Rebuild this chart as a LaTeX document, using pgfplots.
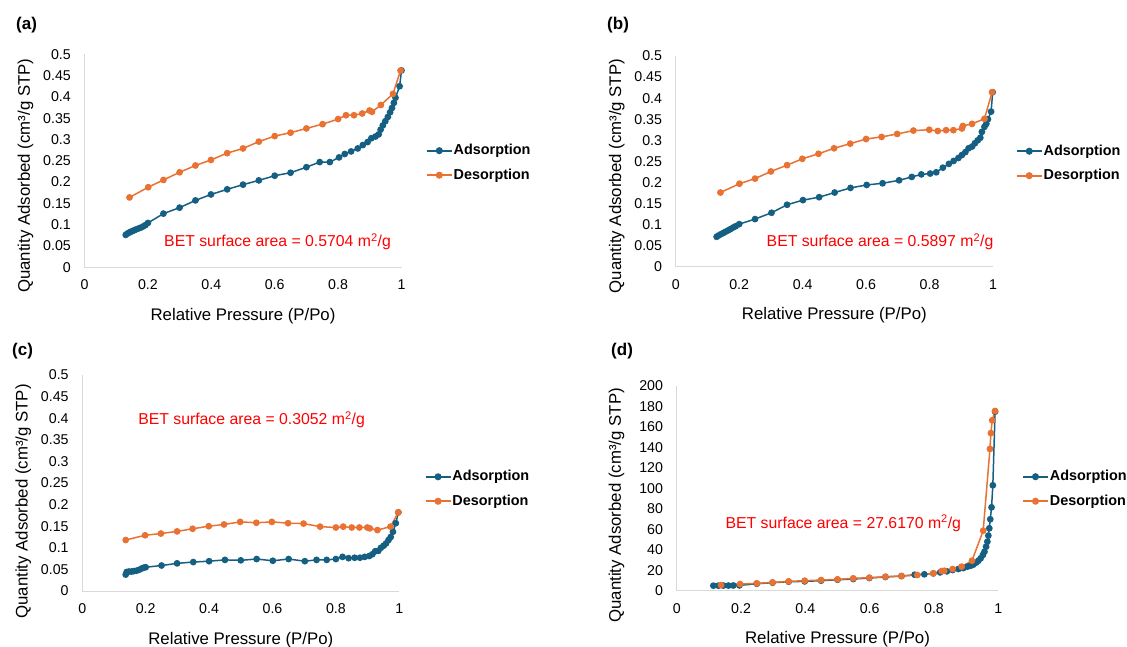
\documentclass[border=0pt]{standalone}
\usepackage{pgfplots}
\pgfplotsset{compat=1.18}
\usepackage{fontspec}
\setmainfont{Liberation Sans}
\definecolor{adsblue}{HTML}{156082}
\definecolor{desorange}{HTML}{E97132}
\definecolor{axgray}{HTML}{D9D9D9}
\tikzset{bettext/.style={text=red, font=\fontsize{15.8}{18}\selectfont, inner sep=0pt}}
\pgfplotsset{
  bet/.style={
    scale only axis, anchor=south west, clip=false,
    xmin=0, xmax=1, ymin=0,
    axis x line*=bottom, axis y line*=left,
    axis line style={draw=axgray, line width=1pt},
    major tick length=0pt,
    xtick={0,0.2,0.4,0.6,0.8,1},
    /pgf/number format/assume math mode=true,
    tick label style={font=\fontsize{14.2}{16}\selectfont, inner sep=0pt},
    xticklabel style={anchor=center, yshift=-17.7pt},
    yticklabel style={anchor=east, xshift=-13.5pt, /pgf/number format/fixed, /pgf/number format/precision=2},
    xlabel={Relative Pressure (P/Po)},
    ylabel={Quantity Adsorbed (cm³/g STP)},
    label style={font=\fontsize{16.8}{19}\selectfont},
    xlabel style={at={(axis description cs:0.5,0)}, anchor=center, yshift=-48.7pt},
    legend cell align=left,
    legend image code/.code={\draw[line width=1.8pt, mark repeat=2,mark phase=2] plot coordinates {(0pt,0pt)(12.5pt,0pt)(25pt,0pt)};},
    legend style={draw=none, fill=none, inner sep=0pt, outer sep=0pt, row sep=8.5pt,
      font=\bfseries\fontsize{14.4}{16}\selectfont,
      nodes={inner sep=1pt, text height=11pt, text depth=3pt}},
  },
  ads/.style={color=adsblue, line width=1.5pt, mark=*, mark size=2.6pt, mark options={solid}},
  des/.style={color=desorange, line width=1.5pt, mark=*, mark size=2.6pt, mark options={solid}},
}
\begin{document}
\begin{tikzpicture}
\useasboundingbox (0pt,0pt) rectangle (1127pt,646pt);
% ---------------- (a)
\begin{axis}[bet, at={(84.5pt,378.7pt)}, width=317pt, height=213pt, ymax=0.5,
  ytick={0,0.05,0.1,0.15,0.2,0.25,0.3,0.35,0.4,0.45,0.5},
  ylabel style={at={(axis description cs:-0.186,0.43)}, anchor=center},
  legend style={at={(1.077,0.49)}, anchor=west}]
\addplot[ads] coordinates {
(0.130,0.076)(0.135,0.079)(0.140,0.081)(0.145,0.083)(0.151,0.085)(0.157,0.087)
(0.163,0.089)(0.170,0.091)(0.177,0.093)(0.185,0.096)(0.192,0.099)(0.200,0.104)
(0.249,0.126)(0.300,0.140)(0.350,0.157)(0.399,0.171)(0.450,0.183)(0.500,0.194)
(0.550,0.204)(0.600,0.215)(0.650,0.222)(0.700,0.235)(0.742,0.247)(0.774,0.247)
(0.803,0.258)(0.821,0.266)(0.841,0.272)(0.862,0.279)(0.878,0.287)(0.893,0.294)
(0.905,0.303)(0.918,0.307)(0.928,0.312)(0.934,0.323)(0.941,0.333)(0.949,0.343)
(0.957,0.353)(0.964,0.364)(0.970,0.374)(0.976,0.386)(0.981,0.398)(0.994,0.425)
(1.000,0.462)};
\addlegendentry{Adsorption}
\addplot[des] coordinates {
(0.142,0.164)(0.201,0.188)(0.249,0.205)(0.300,0.223)(0.350,0.239)(0.399,0.252)
(0.450,0.268)(0.500,0.279)(0.550,0.295)(0.600,0.308)(0.650,0.316)(0.700,0.326)
(0.751,0.336)(0.800,0.348)(0.825,0.357)(0.850,0.357)(0.876,0.361)(0.899,0.368)
(0.907,0.365)(0.935,0.381)(0.973,0.407)(0.997,0.462)};
\addlegendentry{Desorption}
\node[bettext] at (axis cs:0.609,0.060) {BET surface area = 0.5704 m\textsuperscript{2}/g};
\end{axis}
% ---------------- (b)
\begin{axis}[bet, at={(675.7pt,379.3pt)}, width=317.3pt, height=210.7pt, ymax=0.5,
  ytick={0,0.05,0.1,0.15,0.2,0.25,0.3,0.35,0.4,0.45,0.5},
  ylabel style={at={(axis description cs:-0.186,0.43)}, anchor=center},
  legend style={at={(1.072,0.49)}, anchor=west}]
\addplot[ads] coordinates {
(0.129,0.071)(0.135,0.074)(0.142,0.077)(0.150,0.080)(0.157,0.083)(0.165,0.086)
(0.172,0.089)(0.181,0.093)(0.189,0.096)(0.200,0.101)
(0.250,0.113)(0.302,0.128)(0.351,0.147)(0.401,0.158)(0.452,0.165)(0.501,0.176)
(0.551,0.187)(0.602,0.194)(0.652,0.198)(0.704,0.205)(0.744,0.213)(0.774,0.219)
(0.802,0.221)(0.821,0.224)(0.842,0.235)(0.861,0.244)(0.876,0.251)(0.891,0.258)
(0.902,0.265)(0.913,0.272)(0.923,0.281)(0.934,0.285)(0.943,0.293)(0.952,0.300)
(0.960,0.306)(0.965,0.320)(0.973,0.332)(0.979,0.339)(0.984,0.350)(0.994,0.368)
(0.999,0.414)};
\addlegendentry{Adsorption}
\addplot[des] coordinates {
(0.141,0.176)(0.201,0.197)(0.250,0.209)(0.300,0.226)(0.351,0.241)(0.399,0.256)
(0.450,0.268)(0.499,0.281)(0.550,0.292)(0.600,0.303)(0.649,0.308)(0.698,0.315)
(0.749,0.323)(0.799,0.325)(0.826,0.322)(0.852,0.324)(0.875,0.324)(0.902,0.328)
(0.905,0.334)(0.934,0.339)(0.973,0.351)(0.997,0.414)};
\addlegendentry{Desorption}
\node[bettext] at (axis cs:0.644,0.059) {BET surface area = 0.5897 m\textsuperscript{2}/g};
\end{axis}
% ---------------- (c)
\begin{axis}[bet, at={(82.3pt,55pt)}, width=317pt, height=216pt, ymax=0.5,
  ytick={0,0.05,0.1,0.15,0.2,0.25,0.3,0.35,0.4,0.45,0.5},
  ylabel style={at={(axis description cs:-0.186,0.415)}, anchor=center},
  legend style={at={(1.08,0.472)}, anchor=west}]
\addplot[ads] coordinates {
(0.137,0.038)(0.140,0.044)(0.147,0.045)(0.155,0.045)(0.162,0.046)(0.171,0.047)
(0.179,0.049)(0.187,0.052)(0.194,0.054)(0.200,0.055)
(0.250,0.059)(0.299,0.064)(0.350,0.067)(0.400,0.069)(0.450,0.072)(0.500,0.071)
(0.550,0.074)(0.601,0.070)(0.651,0.074)(0.702,0.069)(0.739,0.072)(0.771,0.072)
(0.800,0.074)(0.821,0.079)(0.840,0.076)(0.859,0.077)(0.876,0.077)(0.891,0.079)
(0.905,0.081)(0.915,0.085)(0.924,0.092)(0.934,0.093)(0.942,0.100)(0.951,0.105)
(0.958,0.110)(0.966,0.118)(0.973,0.125)(0.980,0.137)(0.989,0.157)(0.997,0.182)};
\addlegendentry{Adsorption}
\addplot[des] coordinates {
(0.137,0.118)(0.198,0.129)(0.248,0.133)(0.299,0.138)(0.348,0.144)(0.399,0.150)
(0.447,0.154)(0.498,0.160)(0.549,0.158)(0.598,0.160)(0.649,0.157)(0.698,0.156)
(0.750,0.149)(0.800,0.147)(0.823,0.149)(0.850,0.147)(0.874,0.147)(0.899,0.147)
(0.907,0.145)(0.931,0.141)(0.972,0.149)(0.997,0.182)};
\addlegendentry{Desorption}
\node[bettext] at (axis cs:0.534,0.396) {BET surface area = 0.3052 m\textsuperscript{2}/g};
\end{axis}
% ---------------- (d)
\begin{axis}[bet, at={(676.7pt,55.3pt)}, width=321.6pt, height=204.7pt, ymax=200,
  ytick={0,20,40,60,80,100,120,140,160,180,200},
  ylabel style={at={(axis description cs:-0.187,0.417)}, anchor=center},
  legend style={at={(1.074,0.497)}, anchor=west}]
\addplot[ads] coordinates {
(0.114,4.9)(0.130,4.9)(0.145,5.0)(0.161,5.0)(0.176,5.1)(0.195,5.2)
(0.249,6.8)(0.298,7.8)(0.348,8.8)(0.398,9.1)(0.449,9.8)(0.500,10.7)
(0.549,11.4)(0.599,12.4)(0.649,13.4)(0.699,14.3)(0.740,15.6)(0.770,16.0)
(0.798,16.9)(0.819,17.9)(0.840,18.9)(0.858,20.2)(0.876,21.2)(0.891,22.1)
(0.904,23.5)(0.914,24.4)(0.922,25.4)(0.931,27.4)(0.938,29.3)(0.945,31.6)
(0.952,34.9)(0.957,38.1)(0.962,43.0)(0.966,47.9)(0.969,53.8)(0.972,61.0)
(0.975,69.8)(0.979,81.5)(0.983,103.0)(0.990,174.9)};
\addlegendentry{Adsorption}
\addplot[des] coordinates {
(0.138,5.5)(0.197,6.5)(0.249,7.2)(0.298,8.1)(0.348,9.1)(0.398,9.8)
(0.449,10.4)(0.500,11.1)(0.549,12.1)(0.599,12.7)(0.649,13.7)(0.699,14.3)
(0.748,15.3)(0.798,16.9)(0.824,19.2)(0.832,19.5)(0.858,21.2)(0.886,23.5)
(0.918,29.3)(0.953,58.6)(0.974,138.5)(0.977,154)(0.981,166.5)(0.990,175.6)};
\addlegendentry{Desorption}
\node[bettext] at (axis cs:0.518,65.9) {BET surface area = 27.6170 m\textsuperscript{2}/g};
\end{axis}
% ---------------- panel labels
\node[anchor=west, inner sep=0pt, font=\bfseries\fontsize{17}{20}\selectfont] at (16pt,621pt) {(a)};
\node[anchor=west, inner sep=0pt, font=\bfseries\fontsize{17}{20}\selectfont] at (607pt,621pt) {(b)};
\node[anchor=west, inner sep=0pt, font=\bfseries\fontsize{17}{20}\selectfont] at (12pt,295pt) {(c)};
\node[anchor=west, inner sep=0pt, font=\bfseries\fontsize{17}{20}\selectfont] at (611pt,295pt) {(d)};
\end{tikzpicture}
\end{document}
